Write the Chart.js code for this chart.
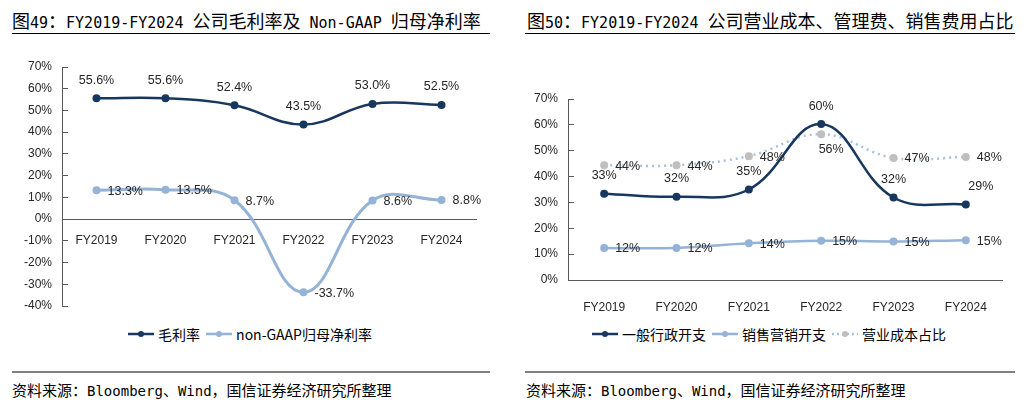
<!DOCTYPE html>
<html>
<head>
<meta charset="utf-8">
<script src="https://cdn.jsdelivr.net/npm/chart.js@4"></script>
<style>
body { margin: 0; background: #fff; width: 1030px; height: 411px; position: relative; overflow: hidden; font-family: "Noto Sans CJK SC", sans-serif; }
.title { position: absolute; top: 8px; font-size: 18px; font-weight: 400; line-height: 24px; color: #000; white-space: nowrap; }
.title .l { font-family: "DejaVu Sans Mono", "Noto Sans CJK SC"; font-size: 15px; }
.rule { position: absolute; top: 33px; height: 0; border-top: 1.5px solid #000; }
.foot { position: absolute; top: 380px; font-size: 15px; line-height: 20px; color: #000; white-space: nowrap; }
.foot .l { font-family: "DejaVu Sans Mono", "Noto Sans CJK SC"; font-size: 14px; }
.frule { position: absolute; top: 371px; height: 0; border-top: 2px solid #808080; }
.box { position: absolute; top: 50px; width: 500px; height: 270px; }
.legend { position: absolute; top: 324px; width: 500px; display: flex; justify-content: center; align-items: center; font-size: 14px; line-height: 20px; color: #000; }
.legend .item { display: flex; align-items: center; margin: 0 3px; }
.legend svg { margin-right: 4px; }
</style>
</head>
<body>

<div class="title" style="left:12px">图<span class="l">49</span>：<span class="l">FY2019-FY2024 </span>公司毛利率及<span class="l"> Non-GAAP </span>归母净利率</div>
<div class="rule" style="left:12px;width:478px"></div>
<div class="title" style="left:527px">图<span class="l">50</span>：<span class="l">FY2019-FY2024 </span>公司营业成本、管理费、销售费用占比</div>
<div class="rule" style="left:525px;width:490px"></div>

<div class="box" style="left:0"><canvas id="chart1"></canvas></div>
<div class="box" style="left:515px"><canvas id="chart2"></canvas></div>

<div class="legend" id="legend1" style="left:0"></div>
<div class="legend" id="legend2" style="left:519px"></div>

<div class="frule" style="left:12px;width:478px"></div>
<div class="frule" style="left:525px;width:490px"></div>
<div class="foot" style="left:12px">资料来源：<span class="l">Bloomberg</span>、<span class="l">Wind</span>，国信证券经济研究所整理</div>
<div class="foot" style="left:526px">资料来源：<span class="l">Bloomberg</span>、<span class="l">Wind</span>，国信证券经济研究所整理</div>

<script>
var years = ['FY2019', 'FY2020', 'FY2021', 'FY2022', 'FY2023', 'FY2024'];

// chart 1 (%)
var grossMargin = [55.6, 55.6, 52.4, 43.5, 53.0, 52.5];
var nonGaapMargin = [13.3, 13.5, 8.7, -33.7, 8.6, 8.8];

// chart 2 (%)
var adminRatio = [33.4, 32.2, 35.0, 60.3, 31.9, 29.2];
var sellingRatio = [12.4, 12.4, 14.2, 15.2, 14.9, 15.4];
var costRatio = [44.4, 44.4, 47.9, 56.4, 47.2, 47.6];

var NAVY = '#17375E';
var LIGHT = '#95B3D7';
var GREY = '#BFBFBF';
var DOTS = '#A9C0DE';
var AXIS = '#595959';
var TEXT = '#262626';
var FONT = '"Liberation Sans", Arial, sans-serif';

// draws the value next to each point
var valueLabels = {
    id: 'valueLabels',
    afterDatasetsDraw: function(chart) {
        var ctx = chart.ctx;
        ctx.save();
        ctx.font = '12.5px ' + FONT;
        ctx.fillStyle = TEXT;
        ctx.textBaseline = 'middle';
        chart.data.datasets.forEach(function(ds, i) {
            var meta = chart.getDatasetMeta(i);
            meta.data.forEach(function(pt, j) {
                var txt = ds.labelFmt(ds.data[j]);
                var pos = (ds.labelAt && ds.labelAt[j]) || ds.labelPos;
                var dx = (ds.labelShift && ds.labelShift[j]) || 0;
                if (pos === 'top') {
                    ctx.textAlign = 'center';
                    ctx.fillText(txt, pt.x + dx, pt.y - 18);
                } else if (pos === 'below') {
                    ctx.textAlign = 'center';
                    ctx.fillText(txt, pt.x + dx, pt.y + 15);
                } else {
                    ctx.textAlign = 'left';
                    ctx.fillText(txt, pt.x + 11 + dx, pt.y + 1);
                }
            });
        });
        ctx.restore();
    }
};

function oneDec(v) { return v.toFixed(1) + '%'; }
function noDec(v) { return Math.round(v) + '%'; }

function yAxis(min, max, w) {
    return {
        min: min,
        max: max,
        ticks: { stepSize: 10, padding: 16, color: TEXT, font: { size: 12, family: FONT }, callback: function(v) { return v + '%'; } },
        grid: { drawOnChartArea: false, drawTicks: true, tickLength: -6, color: AXIS },
        border: { color: AXIS, width: 1 },
        afterFit: function(s) {
            s.width = w;
            s.paddingTop = 0;
            s.paddingBottom = 0;
        }
    };
}

function lineSet(label, data, color, width, extra) {
    var ds = {
        label: label,
        data: data,
        borderColor: color,
        backgroundColor: color,
        pointBackgroundColor: color,
        pointBorderWidth: 0,
        pointRadius: 4,
        borderWidth: width,
        tension: 0.4,
        clip: false
    };
    for (var k in extra) ds[k] = extra[k];
    return ds;
}

var chart1 = new Chart(document.getElementById('chart1').getContext('2d'), {
    type: 'line',
    data: {
        labels: years,
        datasets: [
            lineSet('毛利率', grossMargin, NAVY, 2.5, { labelPos: 'top', labelFmt: oneDec }),
            lineSet('non-GAAP归母净利率', nonGaapMargin, LIGHT, 3, { labelPos: 'right', labelFmt: oneDec })
        ]
    },
    options: {
        responsive: true,
        maintainAspectRatio: false,
        animation: false,
        layout: { padding: { top: 17, right: 24, bottom: 14, left: 0 } },
        plugins: { legend: { display: false }, tooltip: { enabled: false } },
        scales: {
            x: {
                position: { y: 0 },
                offset: true,
                grid: { display: false },
                border: { color: AXIS, width: 1 },
                ticks: { padding: 6, color: TEXT, font: { size: 12, family: FONT } }
            },
            y: yAxis(-40, 70, 62)
        }
    },
    plugins: [valueLabels]
});

var chart2 = new Chart(document.getElementById('chart2').getContext('2d'), {
    type: 'line',
    data: {
        labels: years,
        datasets: [
            lineSet('一般行政开支', adminRatio, NAVY, 2.5, { labelPos: 'top', labelShift: { 5: 15 }, labelFmt: noDec }),
            lineSet('销售营销开支', sellingRatio, LIGHT, 2.5, { labelPos: 'right', labelFmt: noDec }),
            lineSet('营业成本占比', costRatio, GREY, 2.5, { labelPos: 'right', labelAt: { 3: 'below' }, labelShift: { 3: 10 }, labelFmt: noDec, borderDash: [2, 4], borderColor: DOTS })
        ]
    },
    options: {
        responsive: true,
        maintainAspectRatio: false,
        animation: false,
        layout: { padding: { top: 49, right: 13, bottom: 0, left: 0 } },
        plugins: { legend: { display: false }, tooltip: { enabled: false } },
        scales: {
            x: {
                offset: true,
                grid: { display: false },
                border: { color: AXIS, width: 1 },
                ticks: { padding: 12, color: TEXT, font: { size: 12, family: FONT } },
                afterFit: function(s) { s.height = 40; }
            },
            y: yAxis(0, 70, 53)
        }
    },
    plugins: [valueLabels]
});

function buildLegend(el, chart) {
    chart.data.datasets.forEach(function(ds) {
        var item = document.createElement('span');
        item.className = 'item';
        var dash = ds.borderDash ? ' stroke-dasharray="2 3"' : '';
        item.innerHTML = '<svg width="26" height="10"><line x1="0" y1="5" x2="26" y2="5" stroke="' + ds.borderColor +
            '" stroke-width="2.5"' + dash + '/><circle cx="13" cy="5" r="3" fill="' + ds.pointBackgroundColor + '"/></svg>' + ds.label;
        el.appendChild(item);
    });
}

buildLegend(document.getElementById('legend1'), chart1);
buildLegend(document.getElementById('legend2'), chart2);
</script>
</body>
</html>
